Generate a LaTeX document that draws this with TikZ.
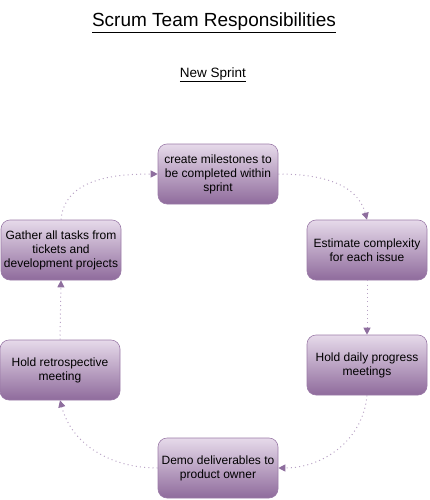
\documentclass[tikz,border=0pt]{standalone}
\usepackage{fontspec}
\setmainfont{Liberation Sans}
\usetikzlibrary{arrows.meta}
\definecolor{boxtop}{HTML}{E6DAEA}
\definecolor{boxbot}{HTML}{8F6B9C}
\definecolor{boxline}{HTML}{9B7BA8}
\definecolor{conn}{HTML}{B8A2C5}
\definecolor{tip}{HTML}{8E6E9E}
\begin{document}
\begin{tikzpicture}[x=1pt,y=-1pt,
  stepbox/.style={draw=boxline, line width=0.6pt, rounded corners=9pt,
    top color=boxtop, bottom color=boxbot, minimum width=120pt, minimum height=60pt,
    inner sep=2pt, align=center,
    font=\fontsize{12pt}{14pt}\selectfont},
  conn/.style={draw=conn, line width=1pt, dash pattern=on 1pt off 3.2pt,
    -{Triangle[width=7pt,length=7pt,fill=tip,color=tip]}, shorten >=0pt}]
\useasboundingbox (0,0) rectangle (430,500);
\node[font=\fontsize{19pt}{21pt}\selectfont] (title) at (214,23) {\underline{Scrum Team Responsibilities}};
\node[font=\fontsize{13.5pt}{15pt}\selectfont] (sub) at (213,75) {\underline{New Sprint}};
\node[stepbox] (top) at (218,174) {create milestones to\\be completed within\\sprint};
\node[stepbox] (ru) at (367,250) {Estimate complexity\\for each issue};
\node[stepbox] (rl) at (367,365) {Hold daily progress\\meetings};
\node[stepbox] (bot) at (218,468) {Demo deliverables to\\product owner};
\node[stepbox] (ll) at (60,370) {Hold retrospective\\meeting};
\node[stepbox] (lu) at (61,250) {Gather all tasks from\\tickets and\\development projects};
\draw[conn] (top.east) to[out=0,in=105] (ru.north);
\draw[conn] (ru.south) -- (rl.north);
\draw[conn] (rl.south) to[out=-95,in=0] (bot.east);
\draw[conn] (bot.west) to[out=180,in=-75] (ll.south);
\draw[conn] (ll.north) -- (lu.south);
\draw[conn] (lu.north) to[out=85,in=180] (top.west);
\end{tikzpicture}
\end{document}
